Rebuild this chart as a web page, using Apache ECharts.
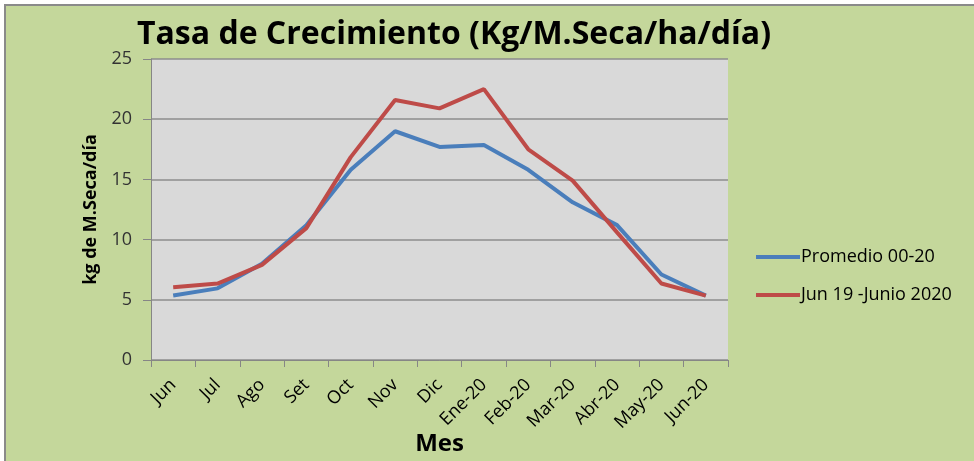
<!DOCTYPE html>
<html>
<head>
<meta charset="utf-8">
<script src="https://cdn.jsdelivr.net/npm/echarts@6/dist/echarts.min.js"></script>
<style>
html,body{margin:0;padding:0;background:#fff;}
#chart{position:absolute;left:0;top:0;width:974px;height:461px;}
#frame{position:absolute;left:0;top:0;width:974px;height:461px;pointer-events:none;box-sizing:border-box;border-top:4px solid #fff;border-left:4px solid #fff;}
#frame2{position:absolute;left:4px;top:4px;width:970px;height:457px;pointer-events:none;box-sizing:border-box;border-top:2px solid #8a8a8a;border-left:2px solid #8a8a8a;}
</style>
</head>
<body>
<div id="chart"></div>
<div id="frame"></div>
<div id="frame2"></div>
<script>
const categories = ['Jun','Jul','Ago','Set','Oct','Nov','Dic','Ene-20','Feb-20','Mar-20','Abr-20','May-20','Jun-20'];
const promedio = [5.35, 5.95, 8.0, 11.2, 15.8, 19.0, 17.7, 17.85, 15.8, 13.1, 11.2, 7.1, 5.35];
const jun19 = [6.05, 6.35, 7.9, 10.95, 16.85, 21.6, 20.9, 22.5, 17.5, 14.9, 10.6, 6.35, 5.35];
const seriesNames = ['Promedio 00-20', 'Jun 19 -Junio 2020'];
const yTicks = [0, 5, 10, 15, 20, 25];

const font = "'Open Sans', 'Noto Sans', sans-serif";
const chart = echarts.init(document.getElementById('chart'), null, {renderer: 'canvas'});
chart.setOption({
  backgroundColor: '#c4d79b',
  animation: false,
  title: {
    text: 'Tasa de Crecimiento (Kg/M.Seca/ha/día)',
    left: 449, top: 14, textAlign: 'center',
    textStyle: {fontFamily: font, fontWeight: 'bold', fontSize: 32, color: '#000'}
  },
  legend: {
    orient: 'vertical', left: 751, top: 243, itemGap: 20,
    itemWidth: 44, itemHeight: 4, icon: 'rect',
    textStyle: {fontFamily: font, fontSize: 18, color: '#000', padding: [0,0,0,-4]},
    data: seriesNames
  },
  grid: {left: 151, top: 59, width: 577, height: 301, show: true, backgroundColor: '#d9d9d9', borderWidth: 0, outerBoundsMode: 'none', containLabel: false},
  xAxis: {
    type: 'category', data: categories, boundaryGap: true,
    name: 'Mes', nameLocation: 'middle', nameGap: 72, nameMoveOverlap: false,
    nameTextStyle: {fontFamily: font, fontWeight: 'bold', fontSize: 24, color: '#000'},
    axisLine: {lineStyle: {color: '#868686', width: 1}},
    axisTick: {show: true, alignWithLabel: false, length: 7, lineStyle: {color: '#868686'}},
    axisLabel: {rotate: 45, margin: 22, fontFamily: font, fontSize: 18, color: '#000', interval: 0}
  },
  yAxis: {
    type: 'value', min: yTicks[0], max: yTicks[yTicks.length-1], interval: 5,
    name: 'kg de M.Seca/día', nameLocation: 'middle', nameGap: 51, nameRotate: 90, nameMoveOverlap: false,
    nameTextStyle: {fontFamily: font, fontWeight: 'bold', fontSize: 18, color: '#000'},
    axisLine: {show: true, lineStyle: {color: '#868686'}},
    axisTick: {show: true, length: 8, lineStyle: {color: '#868686'}},
    axisLabel: {margin: 19, fontFamily: font, fontSize: 18, color: '#333'},
    splitLine: {lineStyle: {color: '#8c8c8c', width: 1.5}}
  },
  series: [
    {name: seriesNames[0], type: 'line', data: promedio, symbol: 'none', lineStyle: {color: '#4a7ebb', width: 4}, itemStyle: {color: '#4a7ebb'}},
    {name: seriesNames[1], type: 'line', data: jun19, symbol: 'none', lineStyle: {color: '#be4b48', width: 4}, itemStyle: {color: '#be4b48'}}
  ]
});
</script>
</body>
</html>
